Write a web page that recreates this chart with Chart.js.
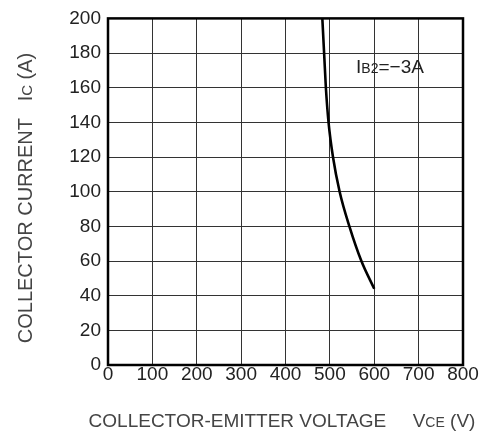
<!DOCTYPE html>
<html><head><meta charset="utf-8">
<script src="https://cdn.jsdelivr.net/npm/chart.js@4"></script>
<style>html,body{margin:0;padding:0;background:#fff}#w{width:485px;height:436px}</style>
</head><body><div id="w"><canvas id="c"></canvas></div>
<script>
const vce = [483, 487, 491, 497, 507, 522, 544, 571, 600];
const ic  = [200, 180, 160, 140, 120, 100, 80, 60, 44];
const xTicks = [0,100,200,300,400,500,600,700,800];
const yTicks = [0,20,40,60,80,100,120,140,160,180,200];
const FONT = "'Liberation Sans', Arial, sans-serif";

function drawParts(c, parts, cx, y){
  let tw = 0; parts.forEach(p=>{c.font=p[1]+'px '+FONT; tw+=c.measureText(p[0]).width;});
  let x = cx - tw/2;
  parts.forEach(p=>{c.font=p[1]+'px '+FONT; c.fillText(p[0], x, y); x+=c.measureText(p[0]).width;});
}

const deco = {
  id:'deco',
  afterDraw(ch){
    const c = ch.ctx, a = ch.chartArea;
    c.save();
    c.strokeStyle='#000'; c.lineWidth=2.5;
    c.strokeRect(a.left, a.top, a.right-a.left, a.bottom-a.top);
    c.textBaseline='alphabetic'; c.textAlign='left';
    // annotation
    c.fillStyle='#222';
    drawParts(c, [['I',19],['B2',14],['=\u22123A',19]], 390, 73);
    // x title
    c.fillStyle='#444';
    drawParts(c, [['COLLECTOR-EMITTER VOLTAGE     V',19],['CE',14],[' (V)',19]], 282, 427);
    // y title
    c.translate(32, 198); c.rotate(-Math.PI/2);
    drawParts(c, [['COLLECTOR CURRENT   I',20],['C',15],[' (A)',20]], 0, 0);
    c.restore();
  }
};

new Chart(document.getElementById('c'), {
  type:'scatter',
  data:{datasets:[{data: vce.map((v,i)=>({x:v,y:ic[i]})), showLine:true, borderColor:'#000', borderWidth:2.6, pointRadius:0, cubicInterpolationMode:'monotone', fill:false}]},
  options:{
    responsive:true, maintainAspectRatio:false, animation:false,
    layout:{padding:{top:11,right:22,left:0,bottom:0}},
    plugins:{legend:{display:false}, tooltip:{enabled:false}},
    scales:{
      x:{type:'linear', min:0, max:800, afterFit:s=>{s.height=71;},
        afterBuildTicks:s=>{s.ticks = xTicks.map(v=>({value:v}));},
        grid:{color:'#333', lineWidth:1, drawTicks:false},
        border:{display:false},
        ticks:{padding:-2, color:'#222', font:{family:FONT, size:19}, maxRotation:0, autoSkip:false}},
      y:{type:'linear', min:0, max:200, afterFit:s=>{s.width=108;},
        afterBuildTicks:s=>{s.ticks = yTicks.map(v=>({value:v}));},
        grid:{color:'#333', lineWidth:1, drawTicks:false},
        border:{display:false},
        ticks:{padding:7, color:'#222', font:{family:FONT, size:19}, autoSkip:false}}
    }
  },
  plugins:[deco]
});
</script></body></html>
